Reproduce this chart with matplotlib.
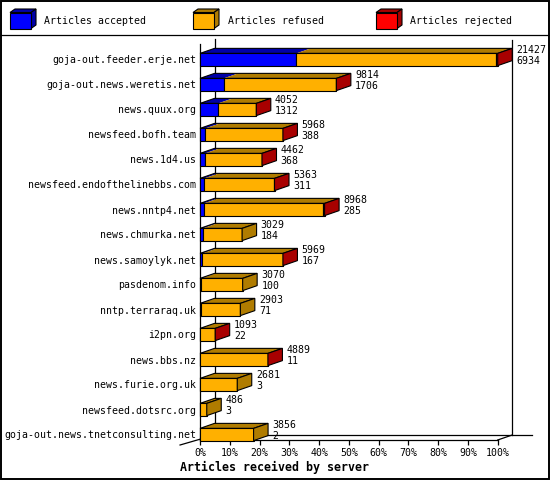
import numpy as np
import matplotlib
matplotlib.use("Agg")
import matplotlib.pyplot as plt
from matplotlib.patches import Polygon, Rectangle

# data
servers = ["goja-out.feeder.erje.net", "goja-out.news.weretis.net", "news.quux.org",
           "newsfeed.bofh.team", "news.1d4.us", "newsfeed.endofthelinebbs.com",
           "news.nntp4.net", "news.chmurka.net", "news.samoylyk.net", "pasdenom.info",
           "nntp.terraraq.uk", "i2pn.org", "news.bbs.nz", "news.furie.org.uk",
           "newsfeed.dotsrc.org", "goja-out.news.tnetconsulting.net"]
offered = [21427, 9814, 4052, 5968, 4462, 5363, 8968, 3029, 5969, 3070, 2903, 1093, 4889, 2681, 486, 3856]
accepted = [6934, 1706, 1312, 388, 368, 311, 285, 184, 167, 100, 71, 22, 11, 3, 3, 2]
rejected = [120, 40, 30, 20, 15, 15, 90, 0, 20, 0, 0, 5, 10, 0, 0, 0]  # estimated
refused = [o - a - r for o, a, r in zip(offered, accepted, rejected)]

series_names = ["Articles accepted", "Articles refused", "Articles rejected"]
front_cols = ["#0000ff", "#ffb000", "#ff0000"]
dark_cols = ["#0000a8", "#b07c00", "#a80000"]

FONT = "DejaVu Sans Mono"
W, H = 550, 480
fig = plt.figure(figsize=(W / 100, H / 100), dpi=100)

# background / legend layer in pixel coordinates
bg = fig.add_axes([0, 0, 1, 1])
bg.set_xlim(0, W)
bg.set_ylim(H, 0)
bg.axis("off")
bg.add_patch(Rectangle((0.5, 0.5), 548, 478, fill=False, ec="black", lw=1.4))
bg.plot([0, 549], [34.5, 34.5], color="black", lw=0.9)
leg_x = [10, 193, 376]
for lx, name, fc, dc in zip(leg_x, series_names, front_cols, dark_cols):
    x0, x1, y0, y1, d, e = lx, lx + 21, 12.5, 28.5, 5, 3.5
    bg.add_patch(Polygon([(x0, y0), (x0 + d, y0 - e), (x1 + d, y0 - e), (x1, y0)],
                         fc=dc, ec="black", lw=0.8))
    bg.add_patch(Polygon([(x1, y0), (x1 + d, y0 - e), (x1 + d, y1 - e), (x1, y1)],
                         fc=dc, ec="black", lw=0.8))
    bg.add_patch(Rectangle((x0, y0), x1 - x0, y1 - y0, fc=fc, ec="black", lw=0.8))
    bg.text(x1 + 13.5, 20.5, name, family=FONT, fontsize=7.15, va="center", ha="left")

# main chart: x in percent, y in row index
ax = fig.add_axes([200 / W, 1 - 440 / H, 297.7 / W, 400 / H])
ax.patch.set_alpha(0)
n = len(servers)
ax.set_xlim(0, 100)
ax.set_ylim(n - 1 + 0.22, -0.78)
for s in ["top", "right", "left"]:
    ax.spines[s].set_visible(False)
ax.spines["bottom"].set_linewidth(0.9)

dx = 14.5 / 2.977   # depth in percent units
dy = 5 / 25.0       # depth in row units
h = 0.49
ybot = n - 1 + 0.22

# axis frame lines
lk = dict(color="black", lw=0.9, clip_on=False, zorder=1)
ax.plot([0, 0], [-0.62, ybot], **lk)
ax.plot([dx, dx], [-0.82, ybot - dy], **lk)
ax.plot([100 + dx, 100 + dx], [-0.78, ybot - dy], **lk)
ax.plot([dx, 111.4], [ybot - dy, ybot - dy], **lk)
ax.plot([-6.7, dx], [ybot + dy, ybot - dy], **lk)
ax.plot([100, 100 + dx], [ybot, ybot - dy], **lk)

vmax = max(offered)
for i in range(n):
    parts = [accepted[i], refused[i], rejected[i]]
    pct = np.array(parts) / vmax * 100
    edges = np.concatenate([[0], np.cumsum(pct)])
    yt, yb = i - h / 2, i + h / 2
    last = max(k for k in range(3) if parts[k] > 0)
    for k in range(3):
        if parts[k] <= 0:
            continue
        x0, x1 = edges[k], edges[k + 1]
        ax.add_patch(Polygon([(x0, yt), (x0 + dx, yt - dy), (x1 + dx, yt - dy), (x1, yt)],
                             fc=dark_cols[k], ec="none", clip_on=False, zorder=3))
        ax.add_patch(Rectangle((x0, yt), x1 - x0, h, fc=front_cols[k], ec="black",
                               lw=0.8, clip_on=False, zorder=4))
    xe = edges[-1]
    ax.add_patch(Polygon([(0, yt), (dx, yt - dy), (xe + dx, yt - dy), (xe, yt)],
                         fill=False, ec="black", lw=0.8, clip_on=False, zorder=4))
    ax.add_patch(Polygon([(xe, yt), (xe + dx, yt - dy), (xe + dx, yb - dy), (xe, yb)],
                         fc=dark_cols[last], ec="black", lw=0.8, clip_on=False, zorder=4))
    tx = xe + dx + 1.4
    ax.text(tx, i - 0.37, str(offered[i]), family=FONT, fontsize=7.15, va="center",
            ha="left", clip_on=False, zorder=5)
    ax.text(tx, i + 0.07, str(accepted[i]), family=FONT, fontsize=7.15, va="center",
            ha="left", clip_on=False, zorder=5)

ax.set_yticks(range(n))
ax.set_yticklabels(servers, family=FONT, fontsize=7.15)
ax.tick_params(axis="y", length=0, pad=2.9)
ticks = list(range(0, 101, 10))
ax.set_xticks(ticks)
ax.set_xticklabels([f"{t}%" for t in ticks], family=FONT, fontsize=7.15)
ax.tick_params(axis="x", length=3.6, width=0.9, pad=2.0)

fig.text(180 / W, 1 - 467 / H, "Articles received by server", family=FONT,
         fontsize=8.4, fontweight="bold", va="center", ha="left")

fig.savefig("out.png", dpi=100)
